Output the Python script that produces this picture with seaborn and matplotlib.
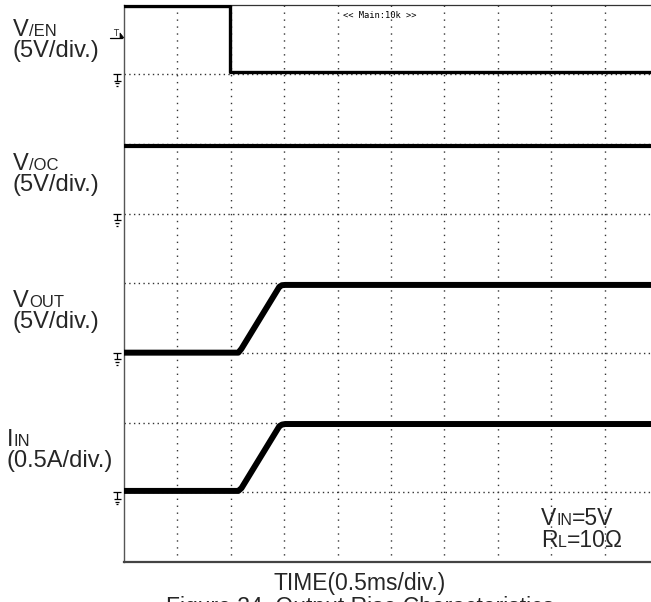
import numpy as np
import pandas as pd
import matplotlib
matplotlib.use("Agg")
import matplotlib.pyplot as plt
import seaborn as sns
from matplotlib.transforms import blended_transform_factory
from matplotlib.patches import Polygon

# ---------------- data (read from the scope capture) ----------------
time_per_div_ms = 0.5
n_div_x = 10
n_div_y = 8

# V/EN  (5 V/div, ground at division 7)
en_t = [0.0, 0.99, 0.99, 5.0]
en_v = [4.9, 4.9, 0.15, 0.15]
# V/OC  (5 V/div, ground at division 5)
oc_t = [0.0, 5.0]
oc_v = [4.88, 4.88]
# VOUT  (5 V/div, ground at division 3)
vout_t = [0.0, 1.07, 1.10, 1.455, 1.48, 1.51, 5.0]
vout_v = [0.02, 0.02, 0.30, 4.75, 4.86, 4.88, 4.88]
# IIN   (0.5 A/div, ground at division 1)
iin_t = [0.0, 1.07, 1.10, 1.455, 1.48, 1.51, 5.0]
iin_a = [0.01, 0.01, 0.03, 0.475, 0.486, 0.49, 0.49]

channel_names = ["EN", "OC", "OUT", "IN"]
channel_ground_div = [7, 5, 3, 1]
channel_per_div = [5.0, 5.0, 5.0, 0.5]
channel_lw = [2.4, 3.0, 4.3, 4.3]
trigger_level_v = 2.6

# ---------------- figure ----------------
W, H = 651, 602
sns.set_style("white")
plt.rcParams["font.family"] = ["Liberation Sans", "DejaVu Sans"]

fig = plt.figure(figsize=(W / 100, H / 100), dpi=100)
left_px, top_px, right_px, bottom_px = 124, 4.5, 658, 562
ax = fig.add_axes([left_px / W, 1 - bottom_px / H,
                   (right_px - left_px) / W, (bottom_px - top_px) / H])
ax.set_xlim(0, n_div_x * time_per_div_ms)
ax.set_ylim(0, n_div_y)
px_per_div_y = (bottom_px - top_px) / n_div_y
ax_w_px = right_px - left_px

# grid
ax.set_xticks(np.arange(1, n_div_x) * time_per_div_ms)
ax.set_yticks(np.arange(1, n_div_y))
ax.tick_params(length=0, labelbottom=False, labelleft=False)
ax.xaxis.grid(True, color="#333333", linewidth=1.0, linestyle=(0, (1, 4)))
ax.yaxis.grid(True, color="#333333", linewidth=1.0, linestyle=(0, (1, 2.4)))
ax.set_axisbelow(True)

for side in ["left", "top", "bottom", "right"]:
    ax.spines[side].set_visible(True)
ax.spines["left"].set(color="#555555", linewidth=1.0)
ax.spines["top"].set(color="#333333", linewidth=0.9)
ax.spines["bottom"].set(color="#444444", linewidth=1.6)
ax.spines["right"].set_visible(False)

# traces
traces = [(en_t, en_v), (oc_t, oc_v), (vout_t, vout_v), (iin_t, iin_a)]
rows = []
for name, g, s, (tt, vv) in zip(channel_names, channel_ground_div,
                                 channel_per_div, traces):
    for i, (t, v) in enumerate(zip(tt, vv)):
        rows.append({"ch": name, "idx": i, "t": t, "div": g + v / s})
df = pd.DataFrame(rows)
for name, lw in zip(channel_names, channel_lw):
    sub = df[df["ch"] == name]
    sns.lineplot(data=sub, x="t", y="div", ax=ax, color="black",
                 linewidth=lw, estimator=None, sort=False, zorder=3)
ax.set_xlabel("")
ax.set_ylabel("")

# ground markers and trigger marker (left of the frame)
bt = blended_transform_factory(ax.transAxes, ax.transData)
def fx(px):
    return (px - left_px) / ax_w_px
def dy(px):
    return -px / px_per_div_y

for g in channel_ground_div:
    kw = dict(transform=bt, color="black", lw=0.9, clip_on=False,
              solid_capstyle="butt")
    ax.plot([fx(113), fx(121)], [g, g], **kw)
    ax.plot([fx(117), fx(117)], [g, g + dy(6.5)], **kw)
    ax.plot([fx(113.5), fx(120.5)], [g + dy(6.5), g + dy(6.5)], **kw)
    ax.plot([fx(114.7), fx(119.3)], [g + dy(9.3), g + dy(9.3)], **kw)
    ax.plot([fx(116), fx(118)], [g + dy(12), g + dy(12)], **kw)

tg = channel_ground_div[0] + trigger_level_v / channel_per_div[0]
ax.text(fx(115.5), tg + dy(-4), "T", transform=bt, fontsize=6,
        ha="center", va="center", family="DejaVu Sans", clip_on=False)
ax.plot([fx(110), fx(122)], [tg, tg], transform=bt, color="black",
        lw=0.9, clip_on=False)
ax.add_patch(Polygon([[fx(120), tg + dy(-5)], [fx(124), tg], [fx(120), tg]],
                     closed=True, transform=bt, facecolor="black",
                     edgecolor="black", lw=0.5, clip_on=False))

ax.text(fx(380), n_div_y + dy(11.5), "<< Main:10k >>", transform=bt,
        fontsize=6.3, family="DejaVu Sans Mono", ha="center", va="center",
        color="black")

# ---------------- text ----------------
BIG, SMALL = 16.5, 11.5
LBIG, LSMALL = 17.0, 12.0
DESC = 0.212

def rich(x_px, y_px, parts, big=BIG, small=SMALL):
    prev, prev_size = None, None
    for txt, sm in parts:
        fs = small if sm else big
        if prev is None:
            prev = fig.text(x_px / W, 1 - y_px / H, txt, fontsize=fs,
                            ha="left", va="baseline")
        else:
            prev = ax.annotate(txt, xy=(1, 0), xycoords=prev,
                               xytext=(0, DESC * prev_size),
                               textcoords="offset points", fontsize=fs,
                               ha="left", va="baseline",
                               annotation_clip=False)
        prev_size = fs

rich(13, 36, [("V", False), ("/EN", True)], LBIG, LSMALL)
rich(13, 57, [("(5V/div.)", False)], LBIG, LSMALL)
rich(13, 170, [("V", False), ("/OC", True)], LBIG, LSMALL)
rich(13, 191, [("(5V/div.)", False)], LBIG, LSMALL)
rich(13, 307, [("V", False), ("OUT", True)], LBIG, LSMALL)
rich(13, 328, [("(5V/div.)", False)], LBIG, LSMALL)
rich(7, 446, [("I", False), ("IN", True)], LBIG, LSMALL)
rich(7, 467, [("(0.5A/div.)", False)], LBIG, LSMALL)

rich(541, 525, [("V", False), ("IN", True), ("=5V", False)])
rich(541, 547, [("R", False), ("L", True), ("=10Ω", False)])

fig.text(360 / W, 1 - 590 / H, "TIME(0.5ms/div.)", fontsize=BIG,
         ha="center", va="baseline")
fig.text(360 / W, 1 - 614 / H, "Figure 34. Output Rise Characteristics",
         fontsize=BIG, ha="center", va="baseline")

fig.savefig("out.png", dpi=100)
